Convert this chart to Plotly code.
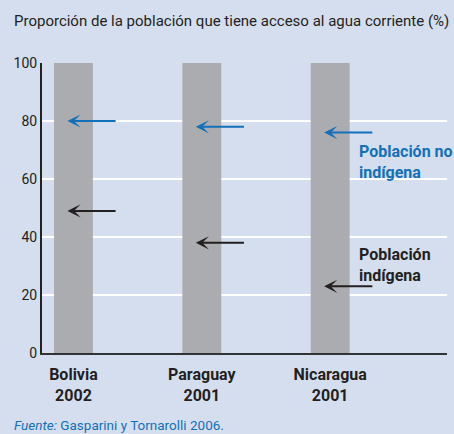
import plotly.graph_objects as go

countries = ["Bolivia", "Paraguay", "Nicaragua"]
years = ["2002", "2001", "2001"]
total = [100, 100, 100]
no_indigena = [80, 78, 76]
indigena = [49, 38, 23]
y_ticks = [0, 20, 40, 60, 80, 100]

BG = "#d5deef"
BLUE = "#1270b8"
DARK = "#231f20"
FONT = "Roboto"

xs = list(range(len(countries)))

fig = go.Figure()
fig.add_trace(go.Bar(x=xs, y=total, width=0.303, marker=dict(color="#abacaf", line=dict(width=0)),
                     hoverinfo="skip", showlegend=False))

annotations = []
for i in xs:
    for val, col in ((no_indigena[i], BLUE), (indigena[i], DARK)):
        annotations.append(dict(x=i - 0.047, y=val, ax=i + 0.34, ay=val, xref="x", yref="y",
                                axref="x", ayref="y", text="", showarrow=True, arrowhead=3,
                                arrowsize=1.1, arrowwidth=2, arrowcolor=col, standoff=0))

annotations.append(dict(x=2.206, y=66, xref="x", yref="y", xanchor="left", yanchor="middle",
                        text="<b>Población no<br>indígena</b>", showarrow=False, align="left",
                        font=dict(family=FONT, size=16, color=BLUE)))
annotations.append(dict(x=2.206, y=30.5, xref="x", yref="y", xanchor="left", yanchor="middle",
                        text="<b>Población<br>indígena</b>", showarrow=False, align="left",
                        font=dict(family=FONT, size=16, color=DARK)))
annotations.append(dict(x=-0.074, y=-0.248, xref="paper", yref="paper", xanchor="left", yanchor="middle",
                        text="<i>Fuente:</i> Gasparini y Tornarolli 2006.", showarrow=False,
                        font=dict(family=FONT, size=13.5, color=BLUE)))
annotations.append(dict(x=-0.074, y=1.145, xref="paper", yref="paper", xanchor="left", yanchor="middle",
                        text="Proporción de la población que tiene acceso al agua corriente (%)",
                        showarrow=False, font=dict(family=FONT, size=15, color=DARK)))

fig.update_layout(
    width=454, height=434,
    margin=dict(l=42, r=7, t=63, b=81),
    paper_bgcolor=BG, plot_bgcolor=BG,
    font=dict(family=FONT, color=DARK),
    annotations=annotations,
    xaxis=dict(range=[-0.245, 2.91], tickmode="array", tickvals=xs,
               ticktext=[f"<b>{c}<br>{y}</b>" for c, y in zip(countries, years)],
               tickfont=dict(size=16, color=DARK), showgrid=False, zeroline=False,
               showline=True, linecolor="#333333", linewidth=2, ticks="", ticklabelstandoff=6),
    yaxis=dict(range=[0, 100], tickmode="array", tickvals=y_ticks, tickfont=dict(size=14, color=DARK),
               showgrid=True, gridcolor="white", gridwidth=1.5, zeroline=False,
               showline=True, linecolor="#222222", linewidth=2, ticks="", ticklen=0),
)

fig.write_html("out.html", config={"displayModeBar": False},
               post_script="document.body.style.margin='0';document.body.style.background='%s';" % BG)
